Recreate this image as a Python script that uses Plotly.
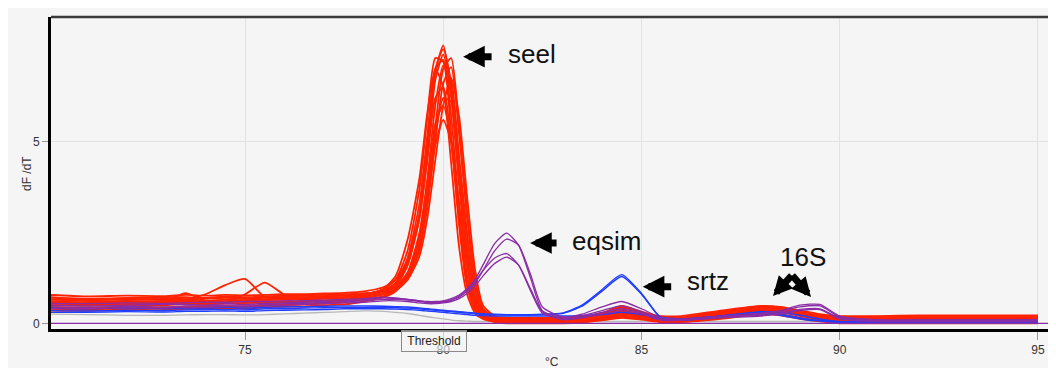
import plotly.graph_objects as go

# Temperature grid (°C) shared by all melt curves
temps = [70.1, 71, 72, 73, 73.5, 74, 74.5, 75, 75.5, 76, 76.5, 77, 77.5,
         78, 78.5, 78.8, 79.1, 79.4, 79.6, 79.8, 80.0, 80.2, 80.4, 80.6, 80.8,
         81.0, 81.3, 81.6, 81.9, 82.2, 82.5,
         83, 83.5, 84, 84.5, 85, 85.5, 86, 87, 88, 88.5, 89, 89.5, 90, 91, 92, 93, 94, 95]

# seel (red) curves, dF/dT
red_1 = [0.72,0.66,0.68,0.65,0.70,0.68,0.72,0.70,0.72,0.74,0.72,0.74,0.76,
         0.80,0.92,1.10,1.70,3.00,4.80,6.90,7.65,6.40,4.00,1.90,0.65,0.25,0.14,0.12,0.12,0.12,0.12,
         0.12,0.15,0.25,0.35,0.25,0.15,0.15,0.30,0.45,0.42,0.30,0.22,0.18,0.18,0.20,0.20,0.20,0.20]
red_2 = [0.60,0.58,0.62,0.60,0.63,0.62,0.65,0.64,0.66,0.68,0.67,0.70,0.72,
         0.78,0.95,1.20,2.00,3.70,5.70,7.30,7.20,5.20,2.70,1.00,0.35,0.18,0.10,0.08,0.08,0.08,0.08,
         0.08,0.10,0.18,0.28,0.20,0.10,0.10,0.22,0.38,0.35,0.25,0.15,0.10,0.10,0.10,0.10,0.10,0.10]
red_3 = [0.50,0.48,0.52,0.50,0.54,0.52,0.55,0.56,0.58,0.60,0.60,0.62,0.65,
         0.70,0.80,0.90,1.20,2.00,3.20,5.00,6.60,7.05,5.20,2.90,1.15,0.38,0.15,0.10,0.10,0.10,0.10,
         0.10,0.12,0.22,0.42,0.28,0.12,0.12,0.25,0.40,0.38,0.28,0.18,0.12,0.10,0.10,0.10,0.10,0.10]
red_4 = [0.45,0.42,0.45,0.44,0.46,0.47,0.48,0.47,0.50,0.52,0.52,0.55,0.58,
         0.65,0.75,0.90,1.25,2.20,3.40,4.90,5.60,5.00,3.30,1.60,0.55,0.20,0.08,0.05,0.05,0.05,0.05,
         0.05,0.08,0.12,0.20,0.15,0.08,0.08,0.18,0.30,0.30,0.20,0.10,0.05,0.05,0.05,0.05,0.05,0.05]
red_5 = [0.65,0.62,0.60,0.62,0.65,0.80,1.05,1.22,0.72,0.66,0.68,0.70,0.72,
         0.78,0.90,1.12,1.80,3.30,5.20,7.00,7.25,5.70,3.20,1.30,0.45,0.20,0.10,0.08,0.08,0.08,0.08,
         0.08,0.12,0.20,0.30,0.22,0.12,0.12,0.28,0.42,0.40,0.28,0.18,0.12,0.12,0.12,0.12,0.12,0.12]
red_6 = [0.55,0.52,0.55,0.56,0.56,0.58,0.60,0.80,1.12,0.78,0.62,0.62,0.65,
         0.70,0.80,0.95,1.30,2.30,3.60,5.20,6.20,6.10,4.40,2.40,0.90,0.30,0.12,0.06,0.06,0.06,0.06,
         0.06,0.08,0.15,0.25,0.18,0.08,0.08,0.20,0.35,0.35,0.25,0.12,0.08,0.08,0.08,0.08,0.08,0.08]
red_7 = [0.60,0.55,0.58,0.62,0.83,0.62,0.60,0.62,0.64,0.66,0.66,0.68,0.70,
         0.75,0.88,1.05,1.60,2.90,4.60,6.70,7.40,6.20,3.80,1.70,0.55,0.22,0.12,0.10,0.10,0.10,0.10,
         0.10,0.12,0.25,0.45,0.30,0.15,0.15,0.30,0.45,0.40,0.28,0.18,0.15,0.15,0.15,0.15,0.15,0.15]
red_8 = [0.40,0.38,0.42,0.40,0.44,0.45,0.46,0.45,0.48,0.50,0.52,0.55,0.60,
         0.72,0.95,1.30,2.30,4.00,5.80,7.00,6.50,4.40,2.10,0.80,0.28,0.12,0.05,0.03,0.03,0.03,0.03,
         0.03,0.05,0.10,0.18,0.12,0.05,0.05,0.15,0.28,0.25,0.15,0.08,0.03,0.03,0.03,0.03,0.03,0.03]
red_9 = [0.70,0.68,0.70,0.72,0.72,0.70,0.74,0.72,0.74,0.76,0.76,0.78,0.80,
         0.82,0.88,0.98,1.20,1.85,2.90,4.50,6.00,6.75,5.70,3.50,1.50,0.50,0.20,0.15,0.15,0.15,0.15,
         0.15,0.18,0.28,0.40,0.30,0.20,0.20,0.35,0.48,0.45,0.35,0.25,0.20,0.20,0.22,0.22,0.22,0.22]
red_10 = [0.50,0.50,0.48,0.52,0.52,0.54,0.55,0.56,0.56,0.58,0.60,0.62,0.64,
          0.70,0.82,1.00,1.60,2.90,4.50,6.20,6.50,5.00,2.80,1.10,0.40,0.15,0.08,0.06,0.06,0.06,0.06,
          0.06,0.08,0.15,0.22,0.15,0.08,0.08,0.20,0.35,0.32,0.22,0.12,0.08,0.08,0.08,0.08,0.08,0.08]
red_11 = [0.78,0.74,0.76,0.75,0.78,0.76,0.78,0.77,0.78,0.80,0.80,0.82,0.84,
          0.88,1.00,1.20,1.75,3.00,4.90,7.00,7.55,6.60,4.30,2.10,0.75,0.28,0.15,0.12,0.12,0.12,0.12,
          0.12,0.14,0.22,0.32,0.22,0.14,0.14,0.30,0.42,0.40,0.30,0.20,0.15,0.15,0.15,0.15,0.15,0.15]
red_12 = [0.58,0.56,0.60,0.58,0.60,0.62,0.60,0.63,0.64,0.66,0.66,0.68,0.70,
          0.76,0.86,1.00,1.40,2.50,4.00,6.00,7.10,6.70,4.60,2.50,0.95,0.32,0.12,0.08,0.08,0.08,0.08,
          0.08,0.10,0.18,0.35,0.22,0.10,0.10,0.25,0.40,0.38,0.26,0.15,0.10,0.10,0.10,0.10,0.10,0.10]
red_13 = [0.35,0.34,0.38,0.36,0.40,0.40,0.42,0.40,0.44,0.46,0.46,0.50,0.52,
          0.60,0.72,0.88,1.35,2.40,3.80,5.50,6.00,5.00,3.00,1.30,0.45,0.15,0.03,0.00,0.00,0.00,0.00,
          0.00,0.02,0.08,0.15,0.10,0.03,0.03,0.12,0.25,0.22,0.12,0.05,0.00,0.00,0.00,0.00,0.00,0.00]
red_14 = [0.66,0.64,0.66,0.68,0.66,0.68,0.70,0.68,0.70,0.72,0.72,0.75,0.78,
          0.82,0.90,1.00,1.30,2.10,3.40,5.40,7.00,7.30,5.40,3.10,1.25,0.42,0.16,0.12,0.12,0.12,0.12,
          0.12,0.15,0.28,0.48,0.32,0.16,0.16,0.32,0.46,0.44,0.32,0.20,0.15,0.15,0.18,0.18,0.18,0.18]

# eqsim (purple) curves
purple_1 = [0.50,0.48,0.50,0.52,0.52,0.50,0.54,0.52,0.55,0.56,0.58,0.60,0.62,
            0.65,0.70,0.68,0.66,0.62,0.60,0.60,0.62,0.68,0.78,0.95,1.20,1.60,2.20,2.48,2.15,1.25,0.35,
            0.15,0.25,0.45,0.60,0.40,0.15,0.12,0.20,0.28,0.35,0.50,0.52,0.20,0.10,0.10,0.10,0.10,0.10]
purple_2 = [0.45,0.44,0.46,0.45,0.48,0.48,0.50,0.50,0.52,0.54,0.55,0.58,0.60,
            0.62,0.66,0.66,0.64,0.60,0.58,0.58,0.60,0.64,0.72,0.88,1.10,1.45,2.00,2.32,2.15,1.35,0.45,
            0.18,0.22,0.35,0.48,0.32,0.12,0.10,0.18,0.25,0.32,0.45,0.48,0.18,0.08,0.08,0.08,0.08,0.08]
purple_3 = [0.55,0.54,0.56,0.55,0.57,0.58,0.58,0.60,0.60,0.62,0.62,0.64,0.66,
            0.68,0.72,0.70,0.66,0.62,0.58,0.56,0.58,0.64,0.75,0.92,1.15,1.45,1.80,1.92,1.60,0.90,0.28,
            0.12,0.18,0.30,0.40,0.28,0.10,0.10,0.18,0.22,0.28,0.38,0.40,0.15,0.06,0.06,0.06,0.06,0.06]
purple_4 = [0.40,0.40,0.42,0.42,0.44,0.44,0.46,0.46,0.48,0.50,0.52,0.54,0.56,
            0.58,0.62,0.62,0.60,0.56,0.54,0.54,0.56,0.60,0.68,0.82,1.02,1.30,1.65,1.82,1.60,0.95,0.32,
            0.10,0.15,0.25,0.35,0.25,0.08,0.08,0.15,0.20,0.25,0.35,0.38,0.12,0.05,0.05,0.05,0.05,0.05]
purple_flat_temps = [70.1, 95.7]
purple_flat = [0.0, 0.0]

# srtz (blue) curves
blue_1 = [0.42,0.40,0.42,0.40,0.42,0.42,0.44,0.42,0.44,0.45,0.46,0.47,0.48,
          0.48,0.47,0.46,0.45,0.42,0.40,0.38,0.36,0.34,0.32,0.30,0.28,0.26,0.25,0.24,0.24,0.24,0.25,
          0.28,0.50,0.92,1.34,0.82,0.14,0.10,0.20,0.30,0.25,0.15,0.08,0.04,0.03,0.03,0.03,0.03,0.03]
blue_2 = [0.35,0.34,0.36,0.35,0.37,0.38,0.38,0.37,0.40,0.40,0.42,0.43,0.44,
          0.44,0.44,0.43,0.42,0.40,0.38,0.36,0.34,0.32,0.30,0.28,0.27,0.25,0.24,0.23,0.23,0.23,0.24,
          0.27,0.47,0.88,1.29,0.80,0.14,0.08,0.18,0.28,0.22,0.12,0.06,0.03,0.02,0.02,0.02,0.02,0.02]
blue_3 = [0.30,0.30,0.32,0.31,0.33,0.33,0.34,0.33,0.35,0.36,0.37,0.38,0.40,
          0.40,0.40,0.39,0.38,0.36,0.34,0.32,0.30,0.28,0.26,0.24,0.22,0.21,0.20,0.20,0.20,0.20,0.20,
          0.20,0.21,0.24,0.30,0.24,0.16,0.12,0.20,0.32,0.30,0.22,0.12,0.05,0.03,0.03,0.03,0.03,0.03]

# grey (no template) curve
grey_1 = [0.25,0.24,0.22,0.22,0.23,0.24,0.24,0.23,0.24,0.26,0.28,0.30,0.32,
          0.34,0.33,0.30,0.27,0.22,0.18,0.15,0.12,0.09,0.07,0.06,0.05,0.05,0.05,0.05,0.05,0.05,0.05,
          0.05,0.05,0.05,0.05,0.05,0.05,0.05,0.05,0.05,0.05,0.05,0.05,0.05,0.05,0.05,0.05,0.05,0.05]

red_curves = [red_1, red_2, red_3, red_4, red_5, red_6, red_7, red_8, red_9,
              red_10, red_11, red_12, red_13, red_14]
purple_curves = [purple_1, purple_2, purple_3, purple_4]
blue_curves = [blue_1, blue_2, blue_3]

x_ticks = [75, 80, 85, 90, 95]
y_ticks = [0, 5]

RED = "#ff2200"
PURPLE = "#8a2ca6"
BLUE = "#1f3dff"
GREY = "#b8b8b8"
FONT = "Liberation Sans, Arial, sans-serif"

fig = go.Figure()

def add_curve(xs, ys, color, width):
    fig.add_trace(go.Scatter(x=xs, y=ys, mode="lines",
                             line=dict(color=color, width=width, shape="spline", smoothing=0.6),
                             hoverinfo="skip", showlegend=False))

add_curve(temps, grey_1, GREY, 1.3)
for ys in red_curves:
    add_curve(temps, ys, RED, 1.8)
for ys in blue_curves:
    add_curve(temps, ys, BLUE, 1.4)
for ys in purple_curves:
    add_curve(temps, ys, PURPLE, 1.3)
add_curve(purple_flat_temps, purple_flat, PURPLE, 1.3)

# Text labels and arrows
labels = [
    dict(text="seel", x=81.58, y=7.415),
    dict(text="eqsim", x=83.20, y=2.266),
    dict(text="srtz", x=86.10, y=1.165),
    dict(text="16S", x=88.44, y=1.834),
]
for lb in labels:
    fig.add_annotation(x=lb["x"], y=lb["y"], text=lb["text"], showarrow=False,
                       xanchor="left", yanchor="middle",
                       font=dict(family=FONT, size=26, color="#111"))

arrows = [
    dict(x=80.50, y=7.34, ax=30, ay=0, w=7, s=0.62),
    dict(x=82.19, y=2.211, ax=28, ay=0, w=7, s=0.62),
    dict(x=85.03, y=1.008, ax=30, ay=0, w=7, s=0.62),
    dict(x=88.317, y=0.752, ax=20, ay=-22, w=7, s=0.55),
    dict(x=89.275, y=0.724, ax=-20, ay=-23, w=7, s=0.55),
]
for ar in arrows:
    fig.add_annotation(x=ar["x"], y=ar["y"], ax=ar["ax"], ay=ar["ay"], text="",
                       showarrow=True, arrowhead=2, arrowsize=ar["s"], arrowwidth=ar["w"],
                       arrowcolor="#000")

# Threshold label box
fig.add_annotation(x=79.754, xref="x", y=-0.0385, yref="paper", text="Threshold",
                   showarrow=False, xanchor="center", yanchor="middle",
                   font=dict(family=FONT, size=12, color="#222"),
                   bordercolor="#8a8a8a", borderwidth=1, borderpad=2,
                   bgcolor="rgba(245,245,245,0.6)", width=60, height=16)

# Axis titles placed as text
fig.add_annotation(x=-0.0237, xref="paper", y=0.5, yref="paper", text="dF /dT",
                   showarrow=False, textangle=-90, xanchor="center", yanchor="middle",
                   font=dict(family=FONT, size=12, color="#333"))
fig.add_annotation(x=82.74, xref="x", y=-0.106, yref="paper", text="°C",
                   showarrow=False, xanchor="center", yanchor="middle",
                   font=dict(family=FONT, size=12, color="#333"))

# Top border of the plot frame
fig.add_shape(type="line", xref="paper", yref="paper", x0=0, x1=1, y0=1, y1=1,
              line=dict(color="#3a3a3a", width=2.5))

fig.update_layout(
    width=1056, height=360,
    margin=dict(l=43, r=0, t=9, b=39, autoexpand=False),
    paper_bgcolor="#f5f5f5", plot_bgcolor="#f5f5f5",
    font=dict(family=FONT, size=12, color="#333"),
    showlegend=False,
)
fig.update_xaxes(
    automargin=False,
    range=[70.107, 95.656], tickvals=x_ticks, ticktext=[str(t) for t in x_ticks],
    showgrid=True, gridcolor="#e2e2e2", gridwidth=1, zeroline=False,
    showline=True, linecolor="#000", linewidth=3,
    ticks="outside", ticklen=8, tickcolor="#999", tickwidth=1,
    tickfont=dict(family=FONT, size=12, color="#333"),
)
fig.update_yaxes(
    automargin=False,
    range=[-0.157, 8.433], tickvals=y_ticks, ticktext=[str(t) for t in y_ticks],
    showgrid=True, gridcolor="#e2e2e2", gridwidth=1, zeroline=False,
    showline=True, linecolor="#000", linewidth=3,
    ticks="outside", ticklen=6, tickcolor="#999", tickwidth=1,
    tickfont=dict(family=FONT, size=12, color="#333"),
)

fig.write_html("out.html",
               post_script="document.documentElement.style.overflow='hidden';"
                           "document.body.style.overflow='hidden';")
